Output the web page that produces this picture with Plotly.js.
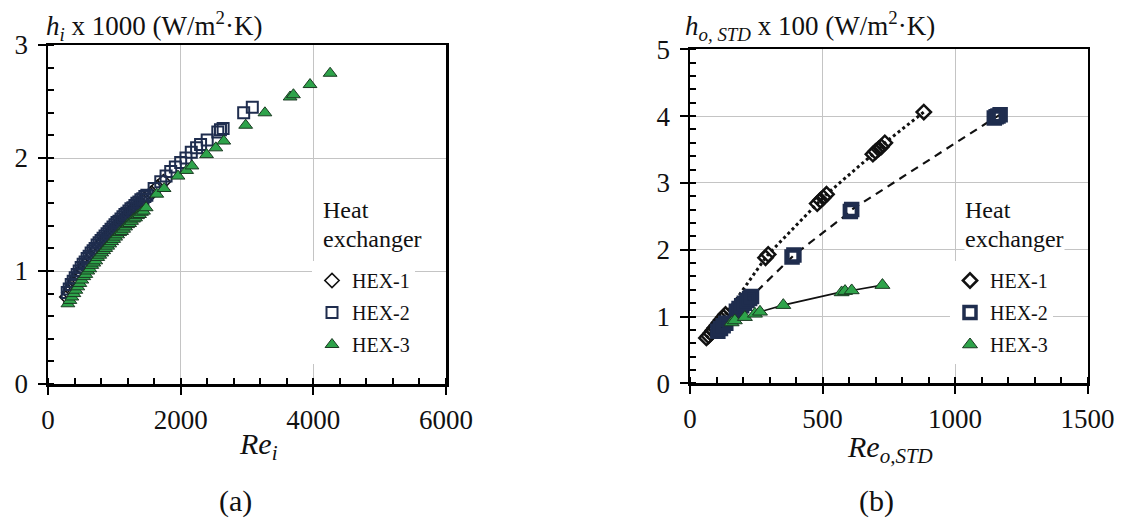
<!DOCTYPE html>
<html>
<head>
<meta charset="utf-8">
<script src="https://cdn.plot.ly/plotly-3.0.1.min.js"></script>
<style>html,body{margin:0;padding:0;background:#fff;}#chart{width:1122px;height:518px;}</style>
</head>
<body>
<div id="chart"></div>
<script>
// ---------- Panel (a): h_i x 1000 vs Re_i ----------
const a_hex1_re = [285,315,345,375,405,435,465,495,525,555,585,615,645,675,705,735,765,795,825,855,885,915,945,975,1005,1035,1065,1095,1125,1155,1185,1215,1245,1275,1305,1335,1365,1395,1425,1455,1485,1560,1650,1740];
const a_hex1_h  = [0.77,0.81,0.84,0.88,0.91,0.94,0.97,0.99,1.02,1.05,1.07,1.10,1.12,1.15,1.17,1.19,1.22,1.24,1.26,1.28,1.30,1.32,1.34,1.36,1.38,1.40,1.42,1.43,1.45,1.47,1.49,1.50,1.52,1.54,1.55,1.57,1.59,1.60,1.62,1.63,1.65,1.69,1.74,1.79];

const a_hex2_re = [290,320,350,380,410,440,470,500,530,560,590,620,650,680,710,740,770,800,830,860,890,920,950,980,1010,1040,1070,1100,1130,1160,1190,1220,1250,1280,1310,1340,1370,1400,1430,1460,1490,1600,1700,1780,1850,1920,2000,2080,2160,2240,2300,2400,2560,2600,2640,2950,3080];
const a_hex2_h  = [0.81,0.84,0.88,0.91,0.94,0.97,1.00,1.03,1.06,1.08,1.11,1.13,1.16,1.18,1.20,1.23,1.25,1.27,1.29,1.31,1.33,1.35,1.37,1.39,1.41,1.43,1.44,1.46,1.48,1.50,1.51,1.53,1.55,1.56,1.58,1.60,1.61,1.63,1.64,1.66,1.67,1.73,1.79,1.84,1.88,1.92,1.96,2.00,2.05,2.09,2.12,2.16,2.23,2.25,2.26,2.40,2.45];

const a_hex3_re = [300,330,360,390,420,450,480,510,540,570,600,630,660,690,720,750,780,810,840,870,900,930,960,990,1020,1050,1080,1110,1140,1170,1200,1230,1260,1290,1320,1350,1380,1410,1440,1480,1640,1750,1960,2090,2170,2390,2530,2650,2980,3270,3650,3700,3950,4253];
const a_hex3_h  = [0.71,0.74,0.77,0.80,0.83,0.86,0.89,0.92,0.95,0.97,1.00,1.02,1.05,1.07,1.09,1.12,1.14,1.16,1.18,1.20,1.22,1.24,1.26,1.28,1.30,1.32,1.34,1.35,1.37,1.39,1.41,1.42,1.44,1.46,1.47,1.49,1.50,1.52,1.53,1.56,1.68,1.73,1.84,1.89,1.93,2.03,2.09,2.15,2.29,2.40,2.54,2.56,2.65,2.75];

// ---------- Panel (b): h_o,STD x 100 vs Re_o,STD ----------
const b_hex1_re = [62,70,78,86,94,102,110,118,126,134,285,295,480,492,503,515,690,700,712,722,735,882];
const b_hex1_h  = [0.68,0.71,0.75,0.79,0.83,0.87,0.91,0.95,0.99,1.03,1.88,1.93,2.69,2.74,2.78,2.83,3.43,3.47,3.51,3.54,3.60,4.06];

const b_hex2_re = [105,115,125,135,175,185,195,205,215,225,232,385,392,605,610,1148,1155,1162,1170];
const b_hex2_h  = [0.78,0.82,0.86,0.90,1.08,1.12,1.16,1.20,1.24,1.27,1.30,1.89,1.92,2.57,2.60,3.97,3.99,4.00,4.02];

const b_hex3_re = [157,169,207,245,264,352,572,585,610,726];
const b_hex3_h  = [0.91,0.94,0.99,1.04,1.07,1.17,1.36,1.38,1.39,1.47];

const seriesNames = ['HEX-1','HEX-2','HEX-3'];
const legendTitleLines = ['Heat','exchanger'];

const NAVY = '#1f2d4e';
const GREEN = '#2ea34a';
const FONT = 'Liberation Serif';

const W = 1122, H = 518;
const px = v => v / W;
const py = v => 1 - v / H;

const traces = [
  {x:a_hex1_re, y:a_hex1_h, name:seriesNames[0], type:'scatter', mode:'markers', xaxis:'x', yaxis:'y', legend:'legend', legendgroup:'a1',
   marker:{symbol:'diamond-open', size:11, color:'#111', line:{width:1.6, color:'#111'}}},
  {x:a_hex2_re, y:a_hex2_h, name:seriesNames[1], type:'scatter', mode:'markers', xaxis:'x', yaxis:'y', legend:'legend', legendgroup:'a2',
   marker:{symbol:'square-open', size:11, color:NAVY, line:{width:2, color:NAVY}}},
  {x:a_hex3_re, y:a_hex3_h, name:seriesNames[2], type:'scatter', mode:'markers', xaxis:'x', yaxis:'y', legend:'legend', legendgroup:'a3',
   marker:{symbol:'triangle-up', size:12, color:GREEN, line:{width:1, color:'#1a3a22'}}},

  // trend lines of panel (b)
  {x:b_hex1_re, y:b_hex1_h, type:'scatter', mode:'lines', xaxis:'x2', yaxis:'y2', showlegend:false, hoverinfo:'skip',
   line:{color:'#111', width:3, dash:'dot'}},
  {x:b_hex2_re, y:b_hex2_h, type:'scatter', mode:'lines', xaxis:'x2', yaxis:'y2', showlegend:false, hoverinfo:'skip',
   line:{color:'#111', width:2.2, dash:'8px,6px'}},
  {x:b_hex3_re, y:b_hex3_h, type:'scatter', mode:'lines', xaxis:'x2', yaxis:'y2', showlegend:false, hoverinfo:'skip',
   line:{color:'#111', width:1.6}},

  {x:b_hex1_re, y:b_hex1_h, name:seriesNames[0], type:'scatter', mode:'markers', xaxis:'x2', yaxis:'y2', legend:'legend2', legendgroup:'b1',
   marker:{symbol:'diamond-open', size:11, color:'#111', line:{width:2.5, color:'#111'}}},
  {x:b_hex2_re, y:b_hex2_h, name:seriesNames[1], type:'scatter', mode:'markers', xaxis:'x2', yaxis:'y2', legend:'legend2', legendgroup:'b2',
   marker:{symbol:'square-open', size:12, color:NAVY, line:{width:3.5, color:NAVY}}},
  {x:b_hex3_re, y:b_hex3_h, name:seriesNames[2], type:'scatter', mode:'markers', xaxis:'x2', yaxis:'y2', legend:'legend2', legendgroup:'b3',
   marker:{symbol:'triangle-up', size:13, color:GREEN, line:{width:1, color:'#1a3a22'}}}
];

function mainAxis(range, dtick, minorD, domain, anchor, standoff) {
  return {
    range: range, domain: domain, anchor: anchor, dtick: dtick, tick0: 0,
    showline: true, mirror: true, linecolor: '#000', linewidth: 2.5,
    showgrid: true, gridcolor: '#c4c4c4', gridwidth: 1, zeroline: false,
    ticks: 'outside', ticklen: 8, tickwidth: 2, tickcolor: '#000',
    ticklabelstandoff: standoff,
    minor: {dtick: minorD, tick0: 0, ticks: 'inside', ticklen: 6, tickwidth: 2, tickcolor: '#000', showgrid: false},
    tickfont: {family: FONT, size: 27, color: '#111'},
    fixedrange: true
  };
}
function overlayAxis(range, dtick, over, anchor) {
  return {
    range: range, overlaying: over, anchor: anchor, dtick: dtick, tick0: 0,
    showline: false, showgrid: false, zeroline: false, showticklabels: false,
    ticks: 'inside', ticklen: 8, tickwidth: 2, tickcolor: '#000', fixedrange: true
  };
}

const domAx = [px(48), px(446)], domAy = [py(384), py(45)];
const domBx = [px(690), px(1087.6)], domBy = [py(383.3), py(49.3)];

function legendBox(xpx) {
  return {
    x: px(xpx), y: py(261), xanchor: 'left', yanchor: 'top',
    bgcolor: '#fff', borderwidth: 0, tracegroupgap: 3, traceorder: 'grouped',
    font: {family: FONT, size: 20, color: '#111'}
  };
}
function legendTitle(xpx) {
  return [
    {xref:'paper', yref:'paper', x:px(xpx), y:py(210), xanchor:'left', yanchor:'middle', showarrow:false,
     bgcolor:'#fff', borderpad:0, text:legendTitleLines[0], font:{family:FONT, size:24, color:'#111'}},
    {xref:'paper', yref:'paper', x:px(xpx), y:py(239), xanchor:'left', yanchor:'middle', showarrow:false,
     bgcolor:'#fff', borderpad:0, text:legendTitleLines[1], font:{family:FONT, size:24, color:'#111'}}
  ];
}

const layout = {
  width: W, height: H,
  margin: {l:0, r:0, t:0, b:0},
  paper_bgcolor: '#fff', plot_bgcolor: '#fff',
  font: {family: FONT, color: '#111'},
  xaxis: mainAxis([0,6000], 2000, 400, domAx, 'y', 2),
  yaxis: mainAxis([0,3], 1, 0.2, domAy, 'x', 4),
  xaxis2: mainAxis([0,1500], 500, 100, domBx, 'y2', 2),
  yaxis2: mainAxis([0,5], 1, 0.2, domBy, 'x2', 4),
  xaxis3: overlayAxis([0,6000], 2000, 'x', 'y'),
  yaxis3: overlayAxis([0,3], 1, 'y', 'x'),
  xaxis4: overlayAxis([0,1500], 500, 'x2', 'y2'),
  yaxis4: overlayAxis([0,5], 1, 'y2', 'x2'),
  legend: legendBox(312),
  legend2: legendBox(950),
  showlegend: true,
  annotations: [
    ...legendTitle(322),
    ...legendTitle(964),
    {xref:'paper', yref:'paper', x:px(44), y:py(26), xanchor:'left', yanchor:'middle', showarrow:false,
     text:'<i>h</i><sub><i>i</i></sub> x 1000 (W/m<sup>2</sup>·K)', font:{family:FONT, size:27, color:'#111'}},
    {xref:'paper', yref:'paper', x:px(683), y:py(26), xanchor:'left', yanchor:'middle', showarrow:false,
     text:'<i>h</i><sub><i>o, STD</i></sub> x 100 (W/m<sup>2</sup>·K)', font:{family:FONT, size:27, color:'#111'}},
    {xref:'paper', yref:'paper', x:px(258), y:py(446), xanchor:'center', yanchor:'middle', showarrow:false,
     text:'<i>Re</i><sub><i>i</i></sub>', font:{family:FONT, size:30, color:'#111'}},
    {xref:'paper', yref:'paper', x:px(890), y:py(449), xanchor:'center', yanchor:'middle', showarrow:false,
     text:'<i>Re</i><sub><i>o,STD</i></sub>', font:{family:FONT, size:30, color:'#111'}},
    {xref:'paper', yref:'paper', x:px(235), y:py(501), xanchor:'center', yanchor:'middle', showarrow:false,
     text:'(a)', font:{family:FONT, size:30, color:'#111'}},
    {xref:'paper', yref:'paper', x:px(876), y:py(501), xanchor:'center', yanchor:'middle', showarrow:false,
     text:'(b)', font:{family:FONT, size:30, color:'#111'}}
  ]
};

Plotly.newPlot('chart', traces, layout, {displayModeBar:false, staticPlot:true});
</script>
</body>
</html>
